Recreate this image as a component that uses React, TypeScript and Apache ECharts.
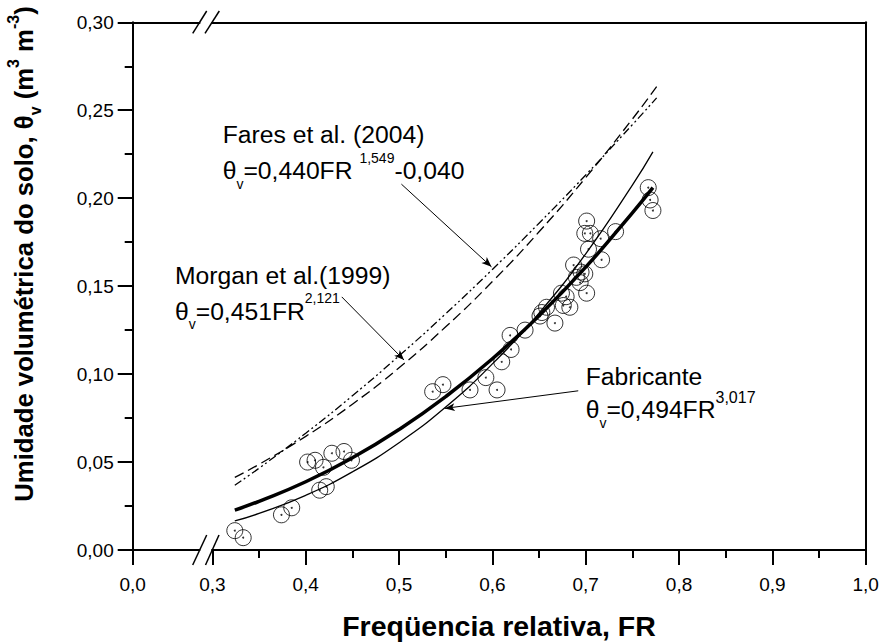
import React, { useEffect, useRef } from 'react';
import * as echarts from 'echarts';

// ---- axis ticks ----
const X_MIN = 0.2146; // position where the "0,0" label sits (axis break)
const xTickValues = [X_MIN, 0.3, 0.4, 0.5, 0.6, 0.7, 0.8, 0.9, 1.0];
const xTickLabels = ['0,0', '0,3', '0,4', '0,5', '0,6', '0,7', '0,8', '0,9', '1,0'];
const xMinorTicks = [0.35, 0.45, 0.55, 0.65, 0.75, 0.85, 0.95];

// ---- measured points ----
const measuredFR = [
  0.324, 0.333, 0.374, 0.385, 0.402, 0.410, 0.415, 0.419, 0.422, 0.428, 0.441, 0.449,
  0.536, 0.547, 0.576, 0.593, 0.605, 0.610, 0.620, 0.619, 0.635, 0.651, 0.653, 0.658,
  0.667, 0.674, 0.676, 0.683, 0.679, 0.687, 0.690, 0.694, 0.695, 0.699, 0.701, 0.701,
  0.703, 0.705, 0.699, 0.716, 0.717, 0.732, 0.767, 0.769, 0.772,
];
const measuredTheta = [
  0.011, 0.007, 0.020, 0.024, 0.050, 0.051, 0.034, 0.047, 0.036, 0.055, 0.056, 0.051,
  0.090, 0.094, 0.091, 0.098, 0.091, 0.107, 0.114, 0.122, 0.125, 0.133, 0.135, 0.138,
  0.129, 0.146, 0.139, 0.138, 0.144, 0.162, 0.155, 0.152, 0.158, 0.157, 0.146, 0.187,
  0.171, 0.180, 0.180, 0.177, 0.165, 0.181, 0.206, 0.199, 0.193,
];

// ---- curves ----
const curveFR = [0.324, 0.35, 0.40, 0.45, 0.50, 0.55, 0.60, 0.65, 0.70, 0.75, 0.772];
const fitTheta = [0.0227, 0.0277, 0.0388, 0.0524, 0.0685, 0.0872, 0.1087, 0.1332, 0.1608, 0.1917, 0.206];
const fabricanteTheta = [0.0165, 0.0208, 0.0311, 0.0444, 0.0610, 0.0813, 0.1058, 0.1347, 0.1684, 0.2074, 0.2263];

const literatureFR = [0.324, 0.35, 0.40, 0.45, 0.50, 0.55, 0.60, 0.65, 0.70, 0.75, 0.776];
const faresTheta = [0.0368, 0.0465, 0.0664, 0.0877, 0.1104, 0.1343, 0.1595, 0.1858, 0.2132, 0.2418, 0.257];
const morganTheta = [0.0413, 0.0487, 0.0646, 0.0829, 0.1036, 0.1269, 0.1526, 0.1809, 0.2117, 0.245, 0.2634];

const zip = (xs: number[], ys: number[]) => xs.map((x, i) => [x, ys[i]]);

const FONT = 'Liberation Sans, Arial, Helvetica, sans-serif';
const AF = 24.7;

const annRich = {
  m: { fontSize: AF, fontFamily: FONT, lineHeight: 40, fill: '#000' },
  sub: { fontSize: 14, fontFamily: FONT, lineHeight: 15, verticalAlign: 'bottom', fill: '#000' },
  sup: { fontSize: 14, fontFamily: FONT, lineHeight: 21, verticalAlign: 'top', fill: '#000' },
  sup2: { fontSize: 16, fontFamily: FONT, lineHeight: 24, verticalAlign: 'top', fill: '#000' },
};

const ann = (text: string, x: number, baseline: number) => ({
  type: 'text',
  x,
  y: baseline - 28.6,
  z: 50,
  silent: true,
  style: { text, rich: annRich, align: 'left', verticalAlign: 'top', fontSize: AF, fontFamily: FONT, fill: '#000' },
});

export default function App() {
  const ref = useRef<HTMLDivElement>(null);

  useEffect(() => {
    if (!ref.current) return;
    const chart = echarts.init(ref.current, null, { renderer: 'svg' });
    const black = { color: '#000', width: 2 };

    const option: any = {
      animation: false,
      backgroundColor: '#fff',
      grid: { left: 132.7, right: 14.3, top: 22.3, bottom: 93, containLabel: false, outerBoundsMode: 'none' },
      xAxis: [
        {
          type: 'value', min: X_MIN, max: 1.0, position: 'bottom',
          axisLine: { show: true, onZero: false, lineStyle: black },
          axisTick: { show: true, length: 15, lineStyle: black, customValues: xTickValues },
          axisLabel: {
            show: true, margin: 25, fontSize: 19, color: '#000', fontFamily: FONT,
            customValues: xTickValues,
            formatter: (v: number) => {
              const i = xTickValues.findIndex((t) => Math.abs(t - v) < 1e-6);
              return i >= 0 ? xTickLabels[i] : '';
            },
          },
          splitLine: { show: false },
        },
        {
          type: 'value', min: X_MIN, max: 1.0, position: 'bottom',
          axisLine: { show: false, onZero: false },
          axisTick: { show: true, length: 8, lineStyle: black, customValues: xMinorTicks },
          axisLabel: { show: false },
          splitLine: { show: false },
        },
        {
          type: 'value', min: X_MIN, max: 1.0, position: 'top',
          axisLine: { show: true, onZero: false, lineStyle: black },
          axisTick: { show: false }, axisLabel: { show: false }, splitLine: { show: false },
        },
      ],
      yAxis: [
        {
          type: 'value', min: 0, max: 0.3, interval: 0.05, position: 'left',
          axisLine: { show: true, onZero: false, lineStyle: black },
          axisTick: { show: true, length: 15, lineStyle: black },
          minorTick: { show: true, splitNumber: 2, length: 8, lineStyle: black },
          axisLabel: {
            margin: 19, fontSize: 19, color: '#000', fontFamily: FONT,
            formatter: (v: number) => v.toFixed(2).replace('.', ','),
          },
          splitLine: { show: false }, minorSplitLine: { show: false },
        },
        {
          type: 'value', min: 0, max: 0.3, position: 'right',
          axisLine: { show: true, onZero: false, lineStyle: black },
          axisTick: { show: false }, axisLabel: { show: false }, splitLine: { show: false },
        },
      ],
      series: [
        {
          type: 'line', name: 'Ajuste', data: zip(curveFR, fitTheta), symbol: 'none', smooth: true,
          lineStyle: { color: '#000', width: 3.5 }, emphasis: { disabled: true }, z: 3,
        },
        {
          type: 'line', name: 'Fabricante', data: zip(curveFR, fabricanteTheta), symbol: 'none', smooth: true,
          lineStyle: { color: '#000', width: 1.3 }, emphasis: { disabled: true },
          markLine: {
            silent: true, symbol: ['none', 'arrow'], symbolSize: [6, 10], animation: false,
            lineStyle: { color: '#000', width: 1, type: 'solid' }, label: { show: false },
            emphasis: { disabled: true },
            data: [
              [{ coord: [0.5025, 0.208] }, { coord: [0.599, 0.161] }],
              [{ coord: [0.4386, 0.1439] }, { coord: [0.5053, 0.108] }],
              [{ coord: [0.692, 0.0905] }, { coord: [0.549, 0.0805] }],
            ],
          },
        },
        {
          type: 'line', name: 'Fares et al. (2004)', data: zip(literatureFR, faresTheta), symbol: 'none', smooth: true,
          lineStyle: { color: '#000', width: 1.3, type: [8, 3, 2, 3, 2, 3] }, emphasis: { disabled: true },
        },
        {
          type: 'line', name: 'Morgan et al. (1999)', data: zip(literatureFR, morganTheta), symbol: 'none', smooth: true,
          lineStyle: { color: '#000', width: 1.3, type: [10, 5] }, emphasis: { disabled: true },
        },
        {
          type: 'scatter', name: 'Medido', data: zip(measuredFR, measuredTheta), symbol: 'circle', symbolSize: 16,
          itemStyle: { color: 'rgba(0,0,0,0)', borderColor: '#000', borderWidth: 1 }, emphasis: { disabled: true }, z: 4,
        },
        {
          type: 'scatter', name: 'centro', data: zip(measuredFR, measuredTheta), symbol: 'circle', symbolSize: 2,
          itemStyle: { color: '#000' }, emphasis: { disabled: true }, z: 5,
        },
      ],
      graphic: [
        // axis breaks: gaps in the top and bottom axis lines
        { type: 'rect', z: 100, silent: true, shape: { x: 200.3, y: 547, width: 11, height: 6 }, style: { fill: '#fff' } },
        { type: 'rect', z: 100, silent: true, shape: { x: 200.3, y: 19.3, width: 11, height: 6 }, style: { fill: '#fff' } },
        { type: 'line', z: 101, silent: true, shape: { x1: 192.7, y1: 565, x2: 206.7, y2: 535 }, style: { stroke: '#000', lineWidth: 1.5 } },
        { type: 'line', z: 101, silent: true, shape: { x1: 205.5, y1: 565, x2: 219, y2: 535 }, style: { stroke: '#000', lineWidth: 1.5 } },
        { type: 'line', z: 101, silent: true, shape: { x1: 192.7, y1: 33.3, x2: 206.7, y2: 11 }, style: { stroke: '#000', lineWidth: 1.5 } },
        { type: 'line', z: 101, silent: true, shape: { x1: 205, y1: 33.3, x2: 219.3, y2: 11 }, style: { stroke: '#000', lineWidth: 1.5 } },
        // annotations
        ann('{m|Fares et al. (2004)}', 222.7, 143.3),
        ann('{m|θ}{sub|v}{m|=0,440FR }{sup|1,549}{m|-0,040}', 222.7, 179.3),
        ann('{m|Morgan et al.(1999)}', 175, 284),
        ann('{m|θ}{sub|v}{m|=0,451FR}{sup|2,121}', 175, 320),
        ann('{m|Fabricante}', 585.7, 385),
        ann('{m|θ}{sub|v}{m|=0,494FR}{sup2|3,017}', 585.7, 418.3),
        // axis titles
        {
          type: 'text', x: 499, y: 626, z: 50, silent: true,
          style: { text: 'Freqüencia relativa, FR', align: 'center', verticalAlign: 'middle', fontSize: 28.5, fontWeight: 'bold', fontFamily: FONT, fill: '#000' },
        },
        {
          type: 'text', x: 24, y: 254, rotation: Math.PI / 2, z: 50, silent: true,
          style: {
            text: '{b|Umidade volumétrica do solo, θ}{bs|v}{b| (m}{bp|3}{b| m}{bp|-3}{b|)}',
            align: 'center', verticalAlign: 'middle', fontSize: 25.7, fontWeight: 'bold', fontFamily: FONT, fill: '#000',
            rich: {
              b: { fontSize: 25.7, fontWeight: 'bold', fontFamily: FONT, lineHeight: 38, fill: '#000' },
              bs: { fontSize: 16, fontWeight: 'bold', fontFamily: FONT, lineHeight: 16, verticalAlign: 'bottom', fill: '#000' },
              bp: { fontSize: 16, fontWeight: 'bold', fontFamily: FONT, lineHeight: 21, verticalAlign: 'top', fill: '#000' },
            },
          },
        },
      ],
    };

    chart.setOption(option);
    return () => chart.dispose();
  }, []);

  return <div ref={ref} style={{ position: 'absolute', left: 0, top: 0, width: 880, height: 643 }} />;
}
